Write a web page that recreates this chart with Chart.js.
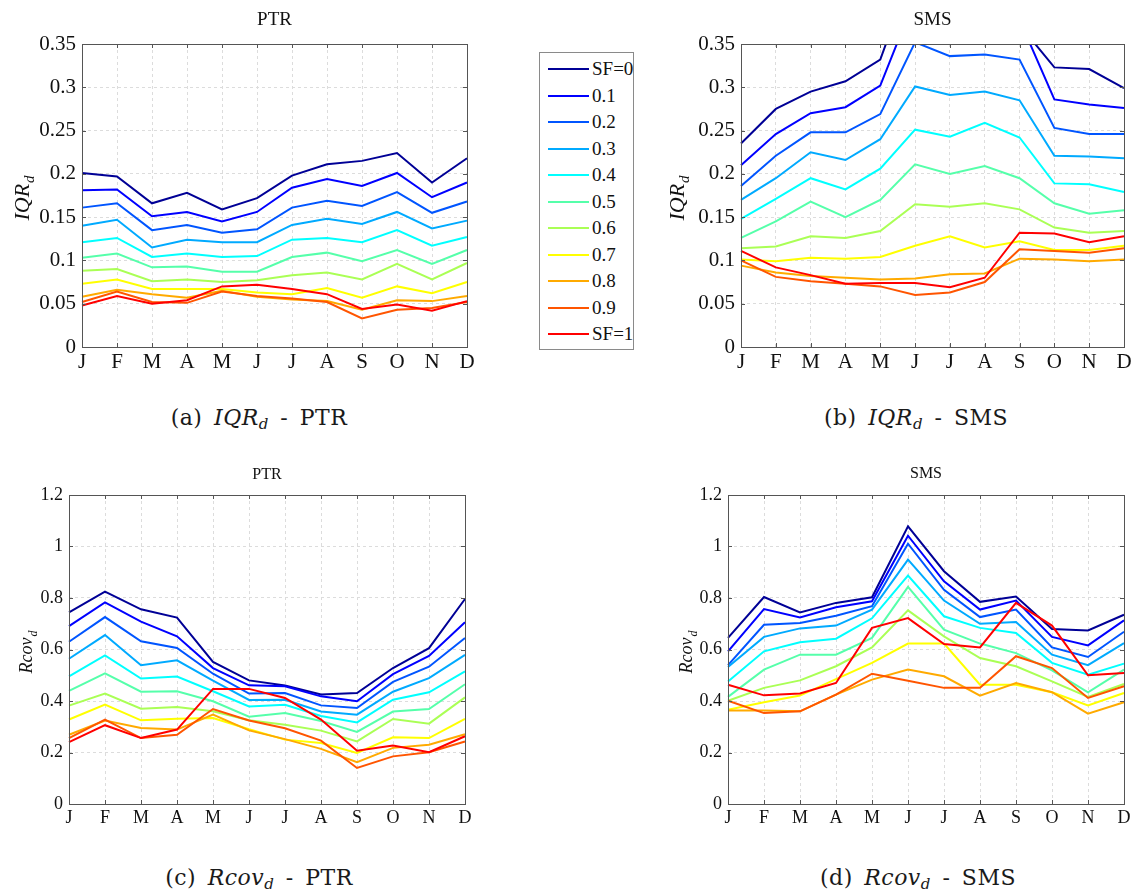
<!DOCTYPE html>
<html>
<head>
<meta charset="utf-8">
<script src="https://cdn.jsdelivr.net/npm/chart.js@4.4.0/dist/chart.umd.min.js"></script>
<style>
  body { margin: 0; background: #fff; width: 1135px; height: 893px; position: relative; overflow: hidden; font-family: "Liberation Serif", serif; color: #111; }
  .panel { position: absolute; }
  .caption { position: absolute; font-family: "DejaVu Serif", serif; font-size: 22px; line-height: 24px; letter-spacing: 0.5px; word-spacing: 4px; transform: translateX(-50%); white-space: nowrap; color: #1a1a1a; }
  .caption sub { font-size: 15px; vertical-align: -4px; line-height: 0; }
  #legend { position: absolute; left: 539px; top: 52px; width: 95px; height: 298px; border: 1px solid #8a8a8a; box-sizing: border-box; background: #fff; }
  .leg-row { position: absolute; left: 8px; height: 20px; display: flex; align-items: center; font-size: 19px; white-space: nowrap; }
  .leg-row .sw { width: 41px; height: 2px; margin-right: 3px; }
</style>
</head>
<body>
<canvas id="cA" class="panel" width="480" height="380" style="left:0;top:0"></canvas>
<canvas id="cB" class="panel" width="475" height="380" style="left:660px;top:0"></canvas>
<canvas id="cC" class="panel" width="480" height="400" style="left:0;top:440px"></canvas>
<canvas id="cD" class="panel" width="475" height="400" style="left:660px;top:440px"></canvas>
<div id="legend"></div>
<div class="caption" style="left:259px;top:406px">(a) <i>IQR<sub>d</sub></i> - PTR</div>
<div class="caption" style="left:916px;top:406px">(b) <i>IQR<sub>d</sub></i> - SMS</div>
<div class="caption" style="left:259px;top:866px">(c) <i>Rcov<sub>d</sub></i> - PTR</div>
<div class="caption" style="left:918px;top:866px">(d) <i>Rcov<sub>d</sub></i> - SMS</div>
<script>
const months = ["J", "F", "M", "A", "M", "J", "J", "A", "S", "O", "N", "D"];
const sfLabels = ["SF=0", "0.1", "0.2", "0.3", "0.4", "0.5", "0.6", "0.7", "0.8", "0.9", "SF=1"];
const sfColors = [
  "rgb(0,0,150)", "rgb(0,0,255)", "rgb(0,85,255)", "rgb(0,170,255)", "rgb(0,255,255)",
  "rgb(85,255,170)", "rgb(170,255,85)", "rgb(255,255,0)", "rgb(255,170,0)", "rgb(255,85,0)", "rgb(255,0,0)"
];
const iqrTicks = [0, 0.05, 0.1, 0.15, 0.2, 0.25, 0.3, 0.35];
const rcovTicks = [0, 0.2, 0.4, 0.6, 0.8, 1, 1.2];

// one row per SF level, J..D
const iqrPtr = [
  [0.201, 0.197, 0.166, 0.178, 0.159, 0.172, 0.198, 0.211, 0.215, 0.224, 0.190, 0.218],
  [0.181, 0.182, 0.151, 0.156, 0.145, 0.156, 0.184, 0.194, 0.186, 0.201, 0.173, 0.190],
  [0.161, 0.166, 0.135, 0.141, 0.132, 0.136, 0.161, 0.169, 0.163, 0.179, 0.155, 0.168],
  [0.140, 0.147, 0.115, 0.124, 0.121, 0.121, 0.141, 0.148, 0.142, 0.156, 0.137, 0.146],
  [0.121, 0.126, 0.104, 0.108, 0.104, 0.105, 0.124, 0.126, 0.121, 0.135, 0.117, 0.127],
  [0.103, 0.108, 0.092, 0.093, 0.087, 0.087, 0.104, 0.109, 0.099, 0.112, 0.096, 0.112],
  [0.088, 0.090, 0.076, 0.078, 0.075, 0.077, 0.083, 0.086, 0.078, 0.096, 0.078, 0.097],
  [0.073, 0.078, 0.067, 0.067, 0.067, 0.063, 0.061, 0.068, 0.057, 0.070, 0.062, 0.075],
  [0.058, 0.066, 0.061, 0.057, 0.065, 0.058, 0.055, 0.053, 0.043, 0.054, 0.053, 0.059],
  [0.052, 0.064, 0.052, 0.051, 0.064, 0.059, 0.056, 0.052, 0.033, 0.043, 0.045, 0.052],
  [0.048, 0.059, 0.050, 0.054, 0.070, 0.072, 0.067, 0.061, 0.044, 0.049, 0.042, 0.053]
];
const iqrSms = [
  [0.235, 0.275, 0.295, 0.307, 0.332, 0.443, 0.430, 0.425, 0.372, 0.323, 0.321, 0.299],
  [0.210, 0.246, 0.270, 0.277, 0.302, 0.403, 0.390, 0.390, 0.378, 0.286, 0.280, 0.276],
  [0.186, 0.221, 0.248, 0.248, 0.269, 0.352, 0.336, 0.338, 0.332, 0.253, 0.246, 0.246],
  [0.170, 0.195, 0.225, 0.216, 0.240, 0.301, 0.291, 0.295, 0.285, 0.221, 0.220, 0.218],
  [0.148, 0.171, 0.195, 0.182, 0.206, 0.251, 0.243, 0.259, 0.242, 0.189, 0.188, 0.179],
  [0.126, 0.145, 0.168, 0.150, 0.170, 0.211, 0.200, 0.209, 0.195, 0.166, 0.154, 0.158],
  [0.114, 0.116, 0.128, 0.126, 0.134, 0.165, 0.162, 0.166, 0.159, 0.138, 0.132, 0.134],
  [0.101, 0.099, 0.103, 0.102, 0.104, 0.117, 0.128, 0.115, 0.122, 0.112, 0.112, 0.117],
  [0.094, 0.086, 0.082, 0.080, 0.078, 0.079, 0.084, 0.085, 0.102, 0.101, 0.099, 0.101],
  [0.100, 0.081, 0.076, 0.073, 0.070, 0.060, 0.063, 0.075, 0.113, 0.111, 0.109, 0.114],
  [0.111, 0.092, 0.083, 0.073, 0.074, 0.074, 0.069, 0.080, 0.132, 0.131, 0.121, 0.128]
];
const rcovPtr = [
  [0.744, 0.825, 0.756, 0.724, 0.552, 0.480, 0.460, 0.425, 0.431, 0.528, 0.605, 0.796],
  [0.691, 0.783, 0.708, 0.651, 0.528, 0.461, 0.457, 0.418, 0.399, 0.504, 0.575, 0.706],
  [0.630, 0.726, 0.632, 0.606, 0.506, 0.429, 0.431, 0.383, 0.373, 0.474, 0.533, 0.645],
  [0.564, 0.656, 0.539, 0.558, 0.479, 0.404, 0.405, 0.359, 0.347, 0.436, 0.489, 0.579],
  [0.496, 0.577, 0.487, 0.495, 0.438, 0.379, 0.385, 0.342, 0.317, 0.405, 0.434, 0.515],
  [0.439, 0.507, 0.436, 0.438, 0.399, 0.339, 0.353, 0.322, 0.280, 0.359, 0.369, 0.465],
  [0.382, 0.429, 0.370, 0.377, 0.360, 0.325, 0.308, 0.285, 0.243, 0.330, 0.312, 0.414],
  [0.328, 0.386, 0.325, 0.331, 0.334, 0.290, 0.250, 0.237, 0.198, 0.259, 0.256, 0.331],
  [0.269, 0.324, 0.295, 0.289, 0.347, 0.286, 0.252, 0.214, 0.162, 0.218, 0.230, 0.271],
  [0.256, 0.328, 0.256, 0.269, 0.369, 0.324, 0.294, 0.246, 0.140, 0.185, 0.201, 0.243],
  [0.240, 0.306, 0.256, 0.289, 0.447, 0.447, 0.412, 0.328, 0.207, 0.227, 0.201, 0.263]
];
const rcovSms = [
  [0.645, 0.804, 0.744, 0.781, 0.803, 1.078, 0.904, 0.785, 0.806, 0.680, 0.674, 0.735],
  [0.593, 0.757, 0.724, 0.764, 0.787, 1.042, 0.865, 0.755, 0.790, 0.649, 0.616, 0.713],
  [0.539, 0.696, 0.703, 0.731, 0.768, 1.011, 0.832, 0.726, 0.755, 0.608, 0.571, 0.669],
  [0.532, 0.649, 0.682, 0.693, 0.755, 0.949, 0.790, 0.700, 0.707, 0.580, 0.539, 0.625],
  [0.476, 0.593, 0.628, 0.642, 0.721, 0.887, 0.729, 0.684, 0.664, 0.548, 0.502, 0.545],
  [0.416, 0.522, 0.580, 0.580, 0.645, 0.843, 0.677, 0.623, 0.586, 0.519, 0.434, 0.522],
  [0.401, 0.451, 0.480, 0.535, 0.608, 0.752, 0.651, 0.567, 0.535, 0.476, 0.416, 0.466],
  [0.366, 0.395, 0.421, 0.485, 0.548, 0.623, 0.623, 0.463, 0.463, 0.434, 0.383, 0.431],
  [0.363, 0.363, 0.360, 0.425, 0.483, 0.522, 0.496, 0.421, 0.470, 0.434, 0.351, 0.395],
  [0.401, 0.353, 0.360, 0.425, 0.506, 0.479, 0.451, 0.451, 0.574, 0.528, 0.412, 0.457],
  [0.463, 0.422, 0.429, 0.470, 0.684, 0.722, 0.621, 0.608, 0.781, 0.693, 0.500, 0.509]
];

// box, inward ticks, panel title and y-axis title (with subscript)
const framePlugin = {
  id: "frame",
  afterDraw(chart, args, opts) {
    const ctx = chart.ctx;
    const a = chart.chartArea;
    const xs = chart.scales.x, ys = chart.scales.y;
    ctx.save();
    ctx.strokeStyle = "#555";
    ctx.lineWidth = 1;
    ctx.strokeRect(Math.round(a.left) + 0.5, Math.round(a.top) + 0.5, Math.round(a.right - a.left), Math.round(a.bottom - a.top));
    ctx.beginPath();
    xs.ticks.forEach((t, i) => {
      const x = Math.round(xs.getPixelForTick(i)) + 0.5;
      ctx.moveTo(x, a.bottom); ctx.lineTo(x, a.bottom - 4);
      ctx.moveTo(x, a.top); ctx.lineTo(x, a.top + 4);
    });
    ys.ticks.forEach((t) => {
      const y = Math.round(ys.getPixelForValue(t.value)) + 0.5;
      ctx.moveTo(a.left, y); ctx.lineTo(a.left + 4, y);
      ctx.moveTo(a.right, y); ctx.lineTo(a.right - 4, y);
    });
    ctx.stroke();

    ctx.fillStyle = "#111";
    ctx.font = opts.titleSize + "px 'Liberation Serif'";
    ctx.textAlign = "center";
    ctx.textBaseline = "middle";
    ctx.fillText(opts.title, (a.left + a.right) / 2, opts.titleY);

    ctx.translate(opts.yTitleX, (a.top + a.bottom) / 2 + 3);
    ctx.rotate(-Math.PI / 2);
    ctx.textBaseline = "alphabetic";
    ctx.textAlign = "left";
    const main = "italic " + opts.yTitleSize + "px 'Liberation Serif'";
    const sub = "italic " + Math.round(opts.yTitleSize * 0.68) + "px 'Liberation Serif'";
    ctx.font = main;
    const w1 = ctx.measureText(opts.yTitle).width;
    ctx.font = sub;
    const w2 = ctx.measureText("d").width;
    const x0 = -(w1 + w2) / 2;
    ctx.font = main;
    ctx.fillText(opts.yTitle, x0, 0);
    ctx.font = sub;
    ctx.fillText("d", x0 + w1 + 1, 5);
    ctx.restore();
  }
};

function makePanel(id, series, yTicks, p) {
  const n = series.length;
  return new Chart(document.getElementById(id), {
    type: "line",
    data: {
      labels: months,
      datasets: series.map((d, i) => ({
        label: sfLabels[i],
        data: d,
        borderColor: sfColors[i],
        borderWidth: 2,
        pointRadius: 0,
        tension: 0,
        fill: false,
        order: n - 1 - i,
      })),
    },
    options: {
      responsive: false,
      animation: false,
      layout: { padding: { top: p.padTop, right: p.padRight, left: 0, bottom: 0 } },
      plugins: {
        legend: { display: false },
        tooltip: { enabled: false },
        frame: p.frame,
      },
      scales: {
        x: {
          offset: false,
          grid: { color: "#dcdcdc", drawTicks: false },
          border: { display: false, dash: [3, 3] },
          ticks: { color: "#111", font: { family: "Liberation Serif", size: p.tick }, padding: 3, maxRotation: 0, autoSkip: false },
          afterFit(s) { s.height = p.xHeight; },
        },
        y: {
          min: 0,
          max: yTicks[yTicks.length - 1],
          grid: { color: "#dcdcdc", drawTicks: false },
          border: { display: false, dash: [3, 3] },
          afterBuildTicks(s) { s.ticks = yTicks.map((v) => ({ value: v })); },
          ticks: {
            color: "#111",
            font: { family: "Liberation Serif", size: p.tick },
            padding: 6,
            callback: (v) => String(+v.toFixed(2)),
          },
          afterFit(s) { s.width = p.yWidth; },
        },
      },
    },
    plugins: [framePlugin],
  });
}

makePanel("cA", iqrPtr, iqrTicks, {
  padTop: 44, padRight: 13, xHeight: 33, yWidth: 82, tick: 21,
  frame: { title: "PTR", titleSize: 19, titleY: 20, yTitle: "IQR", yTitleSize: 22, yTitleX: 29 },
});
makePanel("cB", iqrSms, iqrTicks, {
  padTop: 44, padRight: 11, xHeight: 33, yWidth: 81, tick: 21,
  frame: { title: "SMS", titleSize: 19, titleY: 20, yTitle: "IQR", yTitleSize: 22, yTitleX: 24 },
});
makePanel("cC", rcovPtr, rcovTicks, {
  padTop: 55, padRight: 15, xHeight: 36, yWidth: 69, tick: 18,
  frame: { title: "PTR", titleSize: 16, titleY: 35, yTitle: "Rcov", yTitleSize: 18, yTitleX: 32 },
});
makePanel("cD", rcovSms, rcovTicks, {
  padTop: 55, padRight: 11, xHeight: 36, yWidth: 68, tick: 18,
  frame: { title: "SMS", titleSize: 16, titleY: 34, yTitle: "Rcov", yTitleSize: 18, yTitleX: 32 },
});

const legend = document.getElementById("legend");
sfLabels.forEach((lab, i) => {
  const row = document.createElement("div");
  row.className = "leg-row";
  row.style.top = (6 + i * 26.5) + "px";
  row.innerHTML = '<span class="sw" style="background:' + sfColors[i] + '"></span>' + lab;
  legend.appendChild(row);
});
</script>
</body>
</html>
